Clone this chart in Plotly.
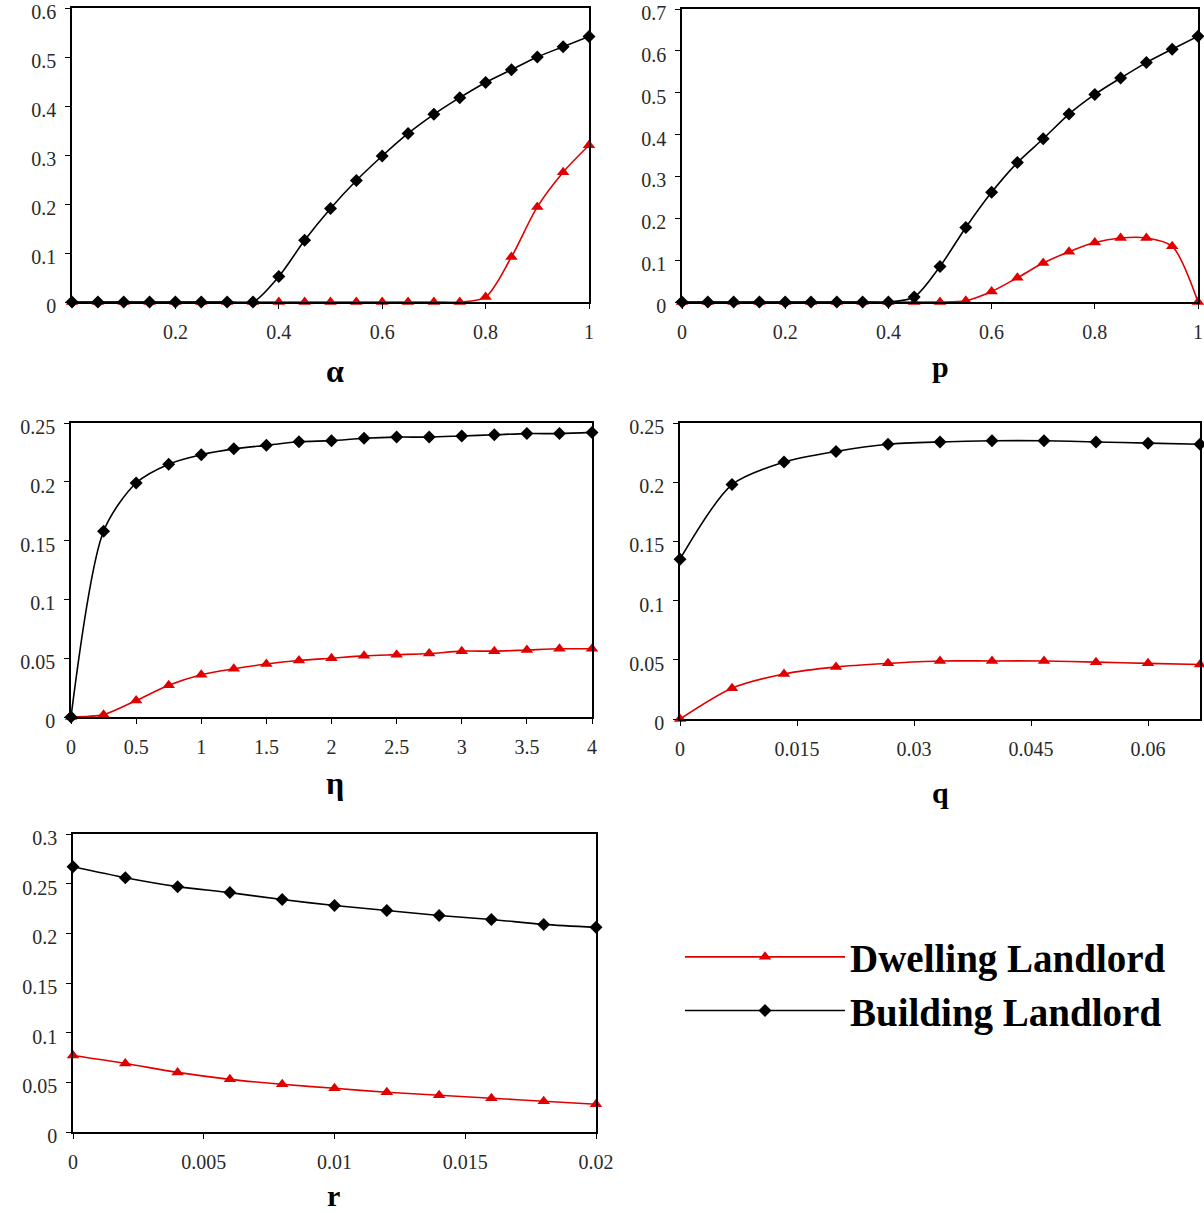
import plotly.graph_objects as go

# ---- data ----
alpha_x = [0, 0.05, 0.1, 0.15, 0.2, 0.25, 0.3, 0.35, 0.4, 0.45, 0.5, 0.55, 0.6, 0.65, 0.7, 0.75, 0.8, 0.85, 0.9, 0.95, 1.0]
alpha_building = [0, 0, 0, 0, 0, 0, 0, 0, 0.052, 0.126, 0.191, 0.248, 0.298, 0.344, 0.383, 0.417, 0.448, 0.474, 0.5, 0.521, 0.542]
alpha_dwelling = [0, 0, 0, 0, 0, 0, 0, 0, 0, 0, 0, 0, 0, 0, 0, 0, 0.01, 0.092, 0.194, 0.265, 0.32]

p_x = [0, 0.05, 0.1, 0.15, 0.2, 0.25, 0.3, 0.35, 0.4, 0.45, 0.5, 0.55, 0.6, 0.65, 0.7, 0.75, 0.8, 0.85, 0.9, 0.95, 1.0]
p_building = [0, 0, 0, 0, 0, 0, 0, 0, 0, 0.012, 0.085, 0.178, 0.262, 0.333, 0.39, 0.449, 0.496, 0.535, 0.572, 0.604, 0.635]
p_dwelling = [0, 0, 0, 0, 0, 0, 0, 0, 0, 0, 0, 0.003, 0.025, 0.058, 0.093, 0.12, 0.142, 0.153, 0.153, 0.133, 0]

eta_x = [0, 0.25, 0.5, 0.75, 1, 1.25, 1.5, 1.75, 2, 2.25, 2.5, 2.75, 3, 3.25, 3.5, 3.75, 4]
eta_building = [0, 0.158, 0.199, 0.215, 0.223, 0.228, 0.231, 0.234, 0.235, 0.237, 0.238, 0.238, 0.239, 0.240, 0.241, 0.241, 0.242]
eta_dwelling = [0, 0.002, 0.014, 0.027, 0.036, 0.041, 0.045, 0.048, 0.05, 0.052, 0.053, 0.054, 0.056, 0.056, 0.057, 0.058, 0.058]

q_x = [0, 1/150, 2/150, 3/150, 4/150, 5/150, 6/150, 7/150, 8/150, 9/150, 10/150]
q_building = [0.135, 0.198, 0.217, 0.226, 0.232, 0.234, 0.235, 0.235, 0.234, 0.233, 0.232]
q_dwelling = [0, 0.026, 0.038, 0.044, 0.047, 0.049, 0.049, 0.049, 0.048, 0.047, 0.046]

r_x = [0, 0.002, 0.004, 0.006, 0.008, 0.01, 0.012, 0.014, 0.016, 0.018, 0.02]
r_building = [0.267, 0.256, 0.247, 0.241, 0.234, 0.228, 0.223, 0.218, 0.214, 0.209, 0.206]
r_dwelling = [0.077, 0.069, 0.06, 0.053, 0.048, 0.044, 0.04, 0.037, 0.034, 0.031, 0.028]

panel_titles = ["α", "p", "η", "q", "r"]
series_names = ["Dwelling Landlord", "Building Landlord"]

# ---- layout helpers ----
W, H = 1204, 1213
def px_x(a, b):
    return [a / W, b / W]
def px_y(top, bottom):
    return [1 - bottom / H, 1 - top / H]

panels = [
    dict(x=alpha_x, b=alpha_building, d=alpha_dwelling, xd=px_x(72, 589), yd=px_y(8, 302),
         xr=[0, 1], yr=[0, 0.6], xt=[0.2, 0.4, 0.6, 0.8, 1], ydt=0.1, title_xy=(335, 371), tsize=32),
    dict(x=p_x, b=p_building, d=p_dwelling, xd=px_x(682, 1198), yd=px_y(9, 302),
         xr=[0, 1], yr=[0, 0.7], xt=[0, 0.2, 0.4, 0.6, 0.8, 1], ydt=0.1, title_xy=(940, 366), tsize=30),
    dict(x=eta_x, b=eta_building, d=eta_dwelling, xd=px_x(71, 592), yd=px_y(423, 717),
         xr=[0, 4], yr=[0, 0.25], xt=[0, 0.5, 1, 1.5, 2, 2.5, 3, 3.5, 4], ydt=0.05, title_xy=(335, 783), tsize=32),
    dict(x=q_x, b=q_building, d=q_dwelling, xd=px_x(680, 1200), yd=px_y(423, 719),
         xr=[0, 1/15], yr=[0, 0.25], xt=[0, 0.015, 0.03, 0.045, 0.06], ydt=0.05, title_xy=(940, 792), tsize=30),
    dict(x=r_x, b=r_building, d=r_dwelling, xd=px_x(73, 596), yd=px_y(834, 1132),
         xr=[0, 0.02], yr=[0, 0.3], xt=[0, 0.005, 0.01, 0.015, 0.02], ydt=0.05, title_xy=(333, 1195), tsize=30),
]

tick_font = dict(family="Liberation Serif", size=20, color="#2a2a2a")
fig = go.Figure()
annotations = []

for i, pnl in enumerate(panels):
    n = "" if i == 0 else str(i + 1)
    xa, ya = "x" + n, "y" + n
    fig.add_trace(go.Scatter(
        x=pnl["x"], y=pnl["d"], xaxis=xa, yaxis=ya, name=series_names[0],
        mode="lines+markers", line=dict(color="#e00000", width=1.6, shape="spline", smoothing=0.8),
        marker=dict(symbol="triangle-up", size=11, color="#e00000"),
        cliponaxis=False, showlegend=(i == 0), legendgroup="d"))
    fig.add_trace(go.Scatter(
        x=pnl["x"], y=pnl["b"], xaxis=xa, yaxis=ya, name=series_names[1],
        mode="lines+markers", line=dict(color="black", width=1.6, shape="spline", smoothing=0.8),
        marker=dict(symbol="diamond", size=10, color="black"),
        cliponaxis=False, showlegend=(i == 0), legendgroup="b"))
    axcommon = dict(showline=True, linecolor="black", linewidth=1.5, mirror=True,
                    showgrid=False, zeroline=False, ticks="outside", ticklen=5,
                    tickcolor="black", tickwidth=1, tickfont=tick_font, automargin=False,
                    ticklabeloverflow="allow")
    fig.layout["xaxis" + n] = dict(domain=pnl["xd"], range=pnl["xr"], anchor=ya,
                                    tickmode="array", tickvals=pnl["xt"],
                                    ticktext=[f"{v:g}" for v in pnl["xt"]],
                                    ticklabelstandoff=6, **axcommon)
    fig.layout["yaxis" + n] = dict(domain=pnl["yd"], range=pnl["yr"], anchor=xa,
                                    dtick=pnl["ydt"], tick0=0, ticklabelstandoff=5,
                                    ticklabelshift=4, **axcommon)
    tx, ty = pnl["title_xy"]
    annotations.append(dict(text=f"<b>{panel_titles[i]}</b>", x=tx / W, y=1 - ty / H,
                            xref="paper", yref="paper", showarrow=False,
                            xanchor="center", yanchor="middle",
                            font=dict(family="Liberation Serif", size=pnl["tsize"], color="black")))

fig.update_layout(
    template="none",
    width=W, height=H, margin=dict(l=0, r=0, t=0, b=0, autoexpand=False),
    paper_bgcolor="white", plot_bgcolor="white",
    font=dict(family="Liberation Serif", color="black"),
    annotations=annotations,
    showlegend=True,
    legend=dict(x=680 / W, y=1 - 925 / H, xanchor="left", yanchor="top",
                font=dict(family="Liberation Serif", size=39, color="black", weight="bold"),
                itemwidth=160, tracegroupgap=12, bgcolor="rgba(0,0,0,0)",
                traceorder="normal"),
)

fig.write_html("out.html", config={"displayModeBar": False},
               post_script="document.body.style.margin='0px';document.body.style.overflow='hidden';")
